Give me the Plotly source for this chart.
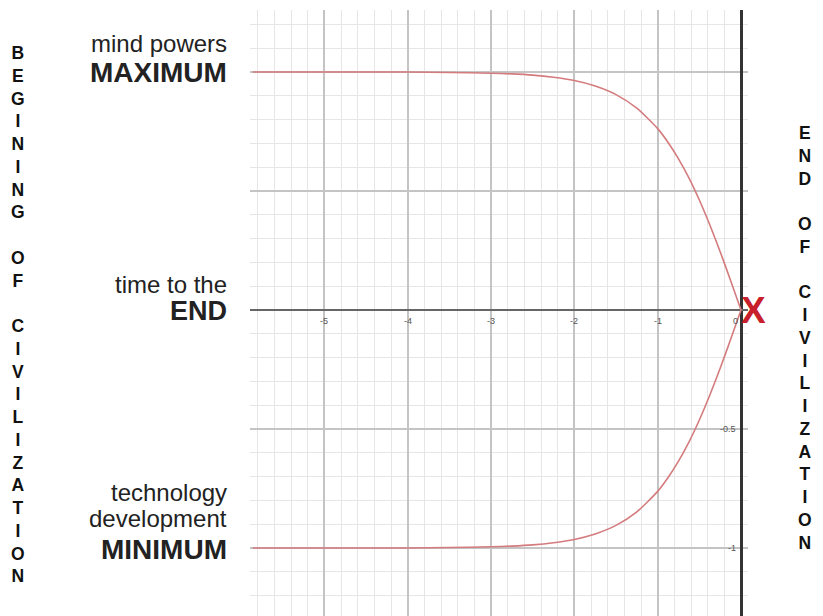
import plotly.graph_objects as go

# ---- data ----
time_x = [-5.86, -5.0, -4.5, -4.0, -3.5, -3.0, -2.75, -2.5, -2.25, -2.0, -1.75,
          -1.5, -1.25, -1.0, -0.875, -0.75, -0.625, -0.5, -0.375, -0.25, -0.125, 0.0]
mind_powers = [1.0, 1.0, 1.0, 1.0, 0.998, 0.995, 0.992, 0.987, 0.978, 0.964, 0.941,
               0.905, 0.848, 0.762, 0.704, 0.635, 0.555, 0.462, 0.358, 0.245, 0.124, 0.0]
technology = [-1.0, -1.0, -1.0, -1.0, -0.998, -0.995, -0.992, -0.987, -0.978, -0.964, -0.941,
              -0.905, -0.848, -0.762, -0.704, -0.635, -0.555, -0.462, -0.358, -0.245, -0.124, 0.0]

x_tick_vals = [-5, -4, -3, -2, -1, 0]
x_tick_text = ["-5", "-4", "-3", "-2", "-1", "0"]
y_tick_vals = [-0.5, -1]
y_tick_text = ["-0.5", "-1"]

left_word = "BEGINING OF CIVILIZATION"
right_word = "END OF CIVILIZATION"

# page offset of the plot div (default body margin)
OFF = 8
W, H = 823 - OFF, 616 - OFF
L, T, B = 250 - OFF, 10 - OFF, 0
R = W - (748 - OFF)
PW, PH = W - L - R, H - T - B

def px(xp):
    return (xp - OFF - L) / PW

def py(yp):
    return (H - B - (yp - OFF)) / PH

X0, XS = 741, 83.33   # pixel of x=0, pixels per unit (reference)
Y0, YS = 310, 238.0   # pixel of y=0, pixels per unit (reference)

FONT = "Liberation Sans, Arial, sans-serif"
CURVE = "#d47b7e"

fig = go.Figure()
for ys in (mind_powers, technology):
    fig.add_trace(go.Scatter(x=time_x, y=ys, mode="lines",
                             line=dict(color=CURVE, width=1.6, shape="spline", smoothing=0.6),
                             hoverinfo="skip"))

ann = []
for v, t in zip(x_tick_vals, x_tick_text):
    ann.append(dict(x=v, y=0, xref="x", yref="y", text=t, showarrow=False,
                    xanchor="center" if v != 0 else "right", yanchor="top",
                    xshift=0 if v != 0 else -1, yshift=-4,
                    font=dict(family=FONT, size=9, color="#555")))
for v, t in zip(y_tick_vals, y_tick_text):
    ann.append(dict(x=0, y=v, xref="x", yref="y", text=t, showarrow=False,
                    xanchor="right", yanchor="middle", xshift=-3,
                    font=dict(family=FONT, size=9, color="#555")))

def lab(text, ypix, size, bold=False):
    ann.append(dict(x=px(229), y=py(ypix), xref="paper", yref="paper",
                    text=f"<b>{text}</b>" if bold else text, showarrow=False,
                    xanchor="right", yanchor="middle",
                    font=dict(family=FONT, size=size, color="#222")))

lab("mind powers", 43, 24)
lab("MAXIMUM", 73, 28, True)
lab("time to the", 284, 24)
lab("END", 311, 27, True)
lab("technology", 492, 24)
lab("development", 518, 24)
lab("MINIMUM", 549, 28, True)

ann.append(dict(x=0, y=0, xref="x", yref="y", text="<b>X</b>", showarrow=False,
                xanchor="left", yanchor="middle", xshift=-2, yshift=0,
                font=dict(family=FONT, size=37, color="#c8202a")))

def vert(word, xpix, ycenter):
    txt = "<br>".join(word)
    ann.append(dict(x=px(xpix), y=py(ycenter), xref="paper", yref="paper",
                    text=txt, showarrow=False, xanchor="center", yanchor="middle",
                    align="center",
                    font=dict(family=FONT, size=17.5, color="#111", weight="bold")))

vert(left_word, 18, 314)
vert(right_word, 805, 338)

bottom_ref = H - B + OFF
fig.update_layout(
    width=W, height=H,
    margin=dict(l=L, r=R, t=T, b=B, pad=0),
    paper_bgcolor="white", plot_bgcolor="white",
    showlegend=False,
    annotations=ann,
    xaxis=dict(range=[(250 - X0) / XS, (748 - X0) / XS],
               tick0=0, dtick=1, showticklabels=False, ticks="",
               showgrid=True, gridcolor="#c4c4c4", gridwidth=1.5,
               minor=dict(tick0=0, dtick=0.2, showgrid=True, gridcolor="#e6e6e6", gridwidth=1.2),
               zeroline=True, zerolinecolor="#333333", zerolinewidth=2.5,
               showline=False, fixedrange=True),
    yaxis=dict(range=[-(bottom_ref - Y0) / YS, (Y0 - 10) / YS],
               tick0=0, dtick=0.5, showticklabels=False, ticks="",
               showgrid=True, gridcolor="#c4c4c4", gridwidth=1.5,
               minor=dict(tick0=0, dtick=0.1, showgrid=True, gridcolor="#e6e6e6", gridwidth=1.2),
               zeroline=True, zerolinecolor="#666666", zerolinewidth=2,
               showline=False, fixedrange=True),
)

fig.write_html("out.html")
